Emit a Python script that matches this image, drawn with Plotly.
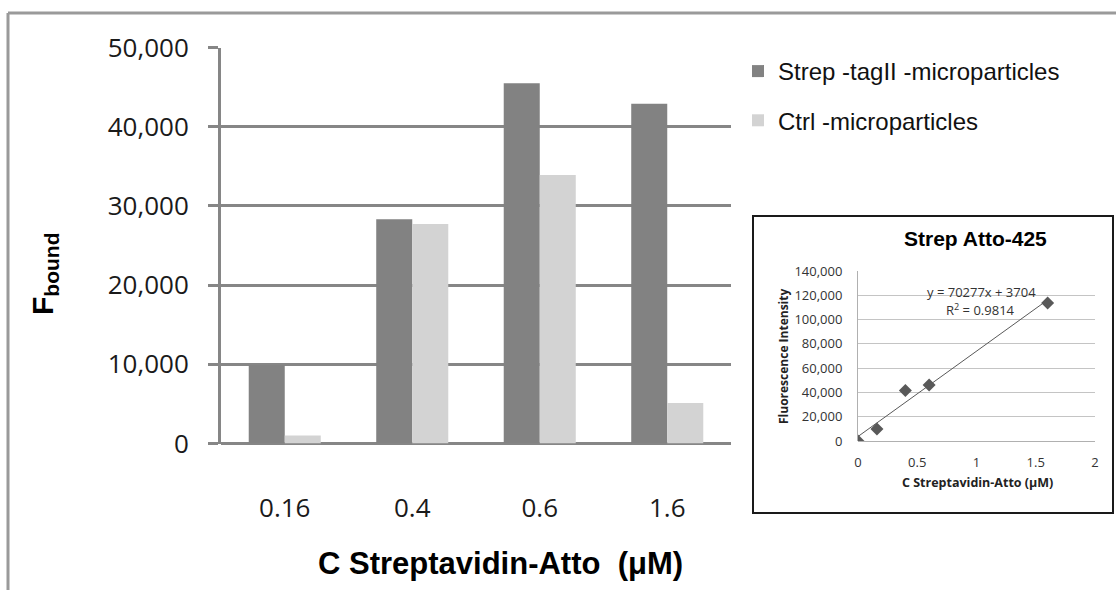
import plotly.graph_objects as go

# Bound fluorescence per Streptavidin-Atto concentration
concentrations = ["0.16", "0.4", "0.6", "1.6"]
strep_tag = [9900, 28300, 45500, 42900]
ctrl = [1000, 27700, 33900, 5100]

# Calibration curve (inset)
cal_conc = [0, 0.16, 0.4, 0.6, 1.6]
cal_intensity = [0, 9800, 41500, 46100, 113600]
fit_slope = 70277
fit_intercept = 3704
fit_r2 = 0.9814
fit_x = [0, 1.6]

W, H = 1116, 590


def px(x):
    return x / W


def py(y):
    return 1 - y / H


GRID = "#868686"
DARK = "#828282"
LIGHT = "#d3d3d3"

fig = go.Figure()

fig.add_trace(go.Bar(
    x=concentrations, y=strep_tag, name="Strep -tagII -microparticles",
    marker=dict(color=DARK, line=dict(width=0)), legendgroup="a",
    xaxis="x", yaxis="y",
))
fig.add_trace(go.Bar(
    x=concentrations, y=ctrl, name="Ctrl -microparticles",
    marker=dict(color=LIGHT, line=dict(width=0)), legendgroup="b",
    xaxis="x", yaxis="y",
))

# inset: calibration points and linear fit
fig.add_trace(go.Scatter(
    x=cal_conc, y=cal_intensity, mode="markers",
    marker=dict(symbol="diamond", size=10, color="#595959"),
    showlegend=False, xaxis="x2", yaxis="y2",
))
fig.add_trace(go.Scatter(
    x=fit_x, y=[fit_slope * v + fit_intercept for v in fit_x], mode="lines",
    line=dict(color="#595959", width=1),
    showlegend=False, xaxis="x2", yaxis="y2",
))


def label(text, x, y, size, family="Liberation Sans, Arial", color="black", angle=0):
    return dict(text=text, textangle=angle, x=px(x), y=py(y),
                xref="paper", yref="paper", xanchor="center", yanchor="middle",
                showarrow=False, font=dict(family=family, size=size, color=color))


fig.update_layout(
    width=W, height=H,
    margin=dict(l=0, r=0, t=0, b=0, autoexpand=False),
    paper_bgcolor="white", plot_bgcolor="white",
    barmode="group", bargap=0.435, bargroupgap=0,
    showlegend=True,
    legend=dict(
        x=px(738), y=py(49), xanchor="left", yanchor="top",
        font=dict(family="Liberation Sans, Arial", size=24, color="#111"),
        traceorder="grouped", tracegroupgap=15,
        bgcolor="rgba(0,0,0,0)", borderwidth=0,
    ),
    xaxis=dict(
        domain=[px(221), px(731)], anchor="y", automargin=False,
        type="category", showgrid=False, showline=False, ticks="",
        tickfont=dict(family="Open Sans", size=26, color="#1a1a1a"),
        ticklabelstandoff=46,
    ),
    yaxis=dict(
        domain=[py(443.5), py(47.5)], anchor="x", automargin=False,
        range=[0, 50000], dtick=10000, tickformat=",",
        showgrid=True, gridcolor=GRID, gridwidth=3,
        zeroline=True, zerolinecolor=GRID, zerolinewidth=3,
        showline=True, linecolor=GRID, linewidth=3,
        ticks="outside", ticklen=10, tickwidth=3, tickcolor=GRID,
        tickfont=dict(family="Open Sans", size=26, color="#1a1a1a"),
        ticklabelstandoff=14,
    ),
    xaxis2=dict(
        domain=[px(858), px(1095)], anchor="y2", automargin=False,
        range=[0, 2], tickvals=[0, 0.5, 1, 1.5, 2],
        ticktext=["0", "0.5", "1", "1.5", "2"],
        showgrid=False, showline=False, zeroline=False, ticks="",
        tickfont=dict(family="Open Sans", size=13, color="#333"),
        ticklabelstandoff=12,
    ),
    yaxis2=dict(
        domain=[py(441), py(271)], anchor="x2", automargin=False,
        range=[0, 140000], dtick=20000, tickformat=",",
        showgrid=True, gridcolor="#c4c4c4", gridwidth=1,
        zeroline=True, zerolinecolor="#b0b0b0", zerolinewidth=1,
        showline=True, linecolor="#b0b0b0", linewidth=1,
        ticks="",
        tickfont=dict(family="Open Sans", size=13, color="#333"),
        ticklabelstandoff=12,
    ),
    shapes=[
        # outer frame (top and left edges)
        dict(type="line", xref="paper", yref="paper",
             x0=px(8), x1=1, y0=py(13), y1=py(13),
             line=dict(color="#9a9a9a", width=3)),
        dict(type="line", xref="paper", yref="paper",
             x0=px(8), x1=px(8), y0=py(13), y1=0,
             line=dict(color="#9a9a9a", width=3)),
        # inset frame
        dict(type="rect", xref="paper", yref="paper",
             x0=px(753), x1=px(1113), y0=py(513), y1=py(216),
             line=dict(color="#1a1a1a", width=2)),
    ],
    annotations=[
        label("<b>F<sub>bound</sub></b>", 44, 274, 30, angle=-90),
        label("<b>C Streptavidin-Atto  (μM)</b>", 500, 563, 31),
        label("<b>Strep Atto-425</b>", 975, 238, 21),
        label("<b>Fluorescence Intensity</b>", 783, 357, 12, family="Open Sans", color="#222", angle=-90),
        label("<b>C Streptavidin-Atto (μM)</b>", 977, 482, 12.5, family="Open Sans", color="#222"),
        label(f"y = {fit_slope}x + {fit_intercept}", 981, 292, 13, family="Open Sans", color="#333"),
        label(f"R<sup>2</sup> = {fit_r2}", 980, 309, 13, family="Open Sans", color="#333"),
    ],
)

fig.write_html("out.html")
